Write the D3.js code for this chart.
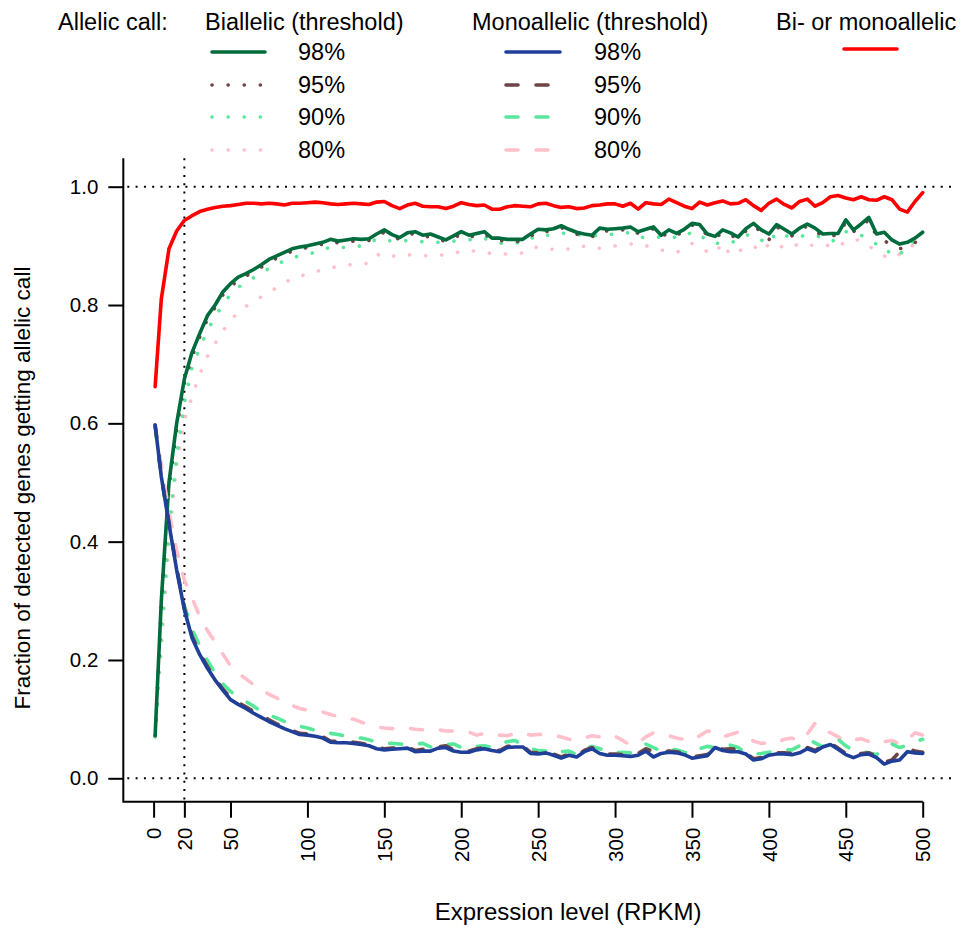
<!DOCTYPE html>
<html lang="en">
<head>
<meta charset="UTF-8">
<title>Allelic call vs expression level</title>
<script src="https://d3js.org/d3.v7.min.js"></script>
<style>
  body { margin: 0; background: #fff; }
  svg { display: block; font-family: "Liberation Sans", Arial, sans-serif; }
</style>
</head>
<body>
<div id="chart"></div>
<script>
// expression level (RPKM) at each point
const rpkm = [1,
  5, 10, 15, 20, 25, 30, 35, 40, 45, 50,
  55, 60, 65, 70, 75, 80, 85, 90, 95, 100,
  105, 110, 115, 120, 125, 130, 135, 140, 145, 150,
  155, 160, 165, 170, 175, 180, 185, 190, 195, 200,
  205, 210, 215, 220, 225, 230, 235, 240, 245, 250,
  255, 260, 265, 270, 275, 280, 285, 290, 295, 300,
  305, 310, 315, 320, 325, 330, 335, 340, 345, 350,
  355, 360, 365, 370, 375, 380, 385, 390, 395, 400,
  405, 410, 415, 420, 425, 430, 435, 440, 445, 450,
  455, 460, 465, 470, 475, 480, 485, 490, 495, 500];

const bi98 = [0.073,
  0.30, 0.50, 0.60, 0.675, 0.72, 0.752, 0.782, 0.80, 0.822, 0.836,
  0.847, 0.853, 0.860, 0.868, 0.877, 0.883, 0.889, 0.895, 0.898, 0.900,
  0.903, 0.906, 0.911, 0.908, 0.910, 0.912, 0.911, 0.912, 0.920, 0.927,
  0.919, 0.914, 0.922, 0.924, 0.918, 0.920, 0.915, 0.910, 0.917, 0.924,
  0.918, 0.921, 0.924, 0.913, 0.913, 0.911, 0.911, 0.911, 0.920, 0.928,
  0.927, 0.929, 0.934, 0.928, 0.923, 0.920, 0.918, 0.930, 0.928, 0.929,
  0.930, 0.932, 0.924, 0.928, 0.932, 0.918, 0.927, 0.921, 0.928, 0.938,
  0.936, 0.920, 0.916, 0.927, 0.922, 0.915, 0.929, 0.938, 0.927, 0.920,
  0.936, 0.928, 0.920, 0.930, 0.937, 0.930, 0.920, 0.921, 0.921, 0.944,
  0.927, 0.937, 0.948, 0.920, 0.923, 0.910, 0.903, 0.906, 0.913, 0.923];

const bi95 = [0.072,
  0.29, 0.49, 0.59, 0.668, 0.713, 0.746, 0.776, 0.796, 0.817, 0.831,
  0.842, 0.849, 0.856, 0.864, 0.873, 0.879, 0.885, 0.891, 0.895, 0.897,
  0.900, 0.903, 0.907, 0.905, 0.906, 0.908, 0.908, 0.909, 0.916, 0.923,
  0.916, 0.911, 0.919, 0.921, 0.915, 0.916, 0.912, 0.907, 0.913, 0.920,
  0.915, 0.917, 0.921, 0.910, 0.909, 0.908, 0.907, 0.908, 0.916, 0.925,
  0.924, 0.926, 0.931, 0.925, 0.920, 0.916, 0.915, 0.926, 0.925, 0.926,
  0.927, 0.929, 0.921, 0.925, 0.929, 0.915, 0.923, 0.918, 0.925, 0.935,
  0.933, 0.917, 0.913, 0.923, 0.918, 0.912, 0.925, 0.935, 0.923, 0.910,
  0.932, 0.925, 0.917, 0.926, 0.934, 0.926, 0.916, 0.917, 0.918, 0.940,
  0.924, 0.933, 0.944, 0.916, 0.909, 0.900, 0.895, 0.899, 0.905, 0.925];

const bi90 = [0.07,
  0.24, 0.42, 0.545, 0.635, 0.695, 0.727, 0.757, 0.780, 0.800, 0.818,
  0.830, 0.838, 0.846, 0.853, 0.862, 0.868, 0.875, 0.879, 0.884, 0.886,
  0.889, 0.893, 0.898, 0.898, 0.897, 0.898, 0.900, 0.904, 0.912, 0.910,
  0.908, 0.908, 0.909, 0.908, 0.907, 0.907, 0.906, 0.907, 0.908, 0.909,
  0.910, 0.913, 0.913, 0.907, 0.905, 0.903, 0.905, 0.906, 0.912, 0.918,
  0.918, 0.918, 0.921, 0.922, 0.919, 0.918, 0.917, 0.917, 0.919, 0.920,
  0.922, 0.922, 0.915, 0.914, 0.916, 0.914, 0.913, 0.915, 0.915, 0.924,
  0.920, 0.907, 0.905, 0.903, 0.905, 0.910, 0.918, 0.919, 0.910, 0.904,
  0.923, 0.918, 0.914, 0.916, 0.918, 0.917, 0.914, 0.907, 0.912, 0.924,
  0.922, 0.918, 0.910, 0.903, 0.900, 0.882, 0.887, 0.893, 0.912, 0.922];

const bi80 = [0.07,
  0.22, 0.40, 0.53, 0.605, 0.645, 0.683, 0.713, 0.735, 0.756, 0.773,
  0.789, 0.798, 0.805, 0.814, 0.822, 0.829, 0.837, 0.845, 0.849, 0.852,
  0.856, 0.860, 0.863, 0.865, 0.867, 0.869, 0.870, 0.870, 0.884, 0.888,
  0.883, 0.882, 0.885, 0.884, 0.883, 0.884, 0.884, 0.885, 0.887, 0.891,
  0.892, 0.891, 0.889, 0.887, 0.887, 0.886, 0.887, 0.888, 0.896, 0.898,
  0.895, 0.894, 0.893, 0.895, 0.900, 0.899, 0.895, 0.896, 0.898, 0.900,
  0.902, 0.903, 0.904, 0.900, 0.897, 0.893, 0.890, 0.889, 0.896, 0.904,
  0.898, 0.890, 0.887, 0.905, 0.884, 0.891, 0.896, 0.900, 0.890, 0.903,
  0.905, 0.895, 0.898, 0.904, 0.901, 0.901, 0.903, 0.899, 0.898, 0.908,
  0.911, 0.909, 0.900, 0.890, 0.883, 0.878, 0.886, 0.892, 0.905, 0.915];

const mono98 = [0.597,
  0.51, 0.43, 0.352, 0.285, 0.237, 0.209, 0.186, 0.166, 0.149, 0.133,
  0.125, 0.118, 0.110, 0.103, 0.096, 0.090, 0.084, 0.079, 0.074, 0.073,
  0.071, 0.068, 0.061, 0.060, 0.060, 0.059, 0.057, 0.055, 0.050, 0.048,
  0.049, 0.050, 0.051, 0.045, 0.046, 0.046, 0.051, 0.052, 0.046, 0.044,
  0.044, 0.048, 0.050, 0.047, 0.045, 0.052, 0.053, 0.053, 0.042, 0.041,
  0.043, 0.039, 0.034, 0.039, 0.036, 0.045, 0.050, 0.042, 0.039, 0.039,
  0.038, 0.037, 0.039, 0.046, 0.036, 0.042, 0.044, 0.043, 0.040, 0.034,
  0.036, 0.038, 0.052, 0.047, 0.045, 0.045, 0.041, 0.031, 0.033, 0.039,
  0.041, 0.041, 0.040, 0.043, 0.050, 0.045, 0.053, 0.057, 0.049, 0.040,
  0.035, 0.040, 0.041, 0.035, 0.024, 0.029, 0.031, 0.045, 0.043, 0.042];

const mono95 = [0.597,
  0.51, 0.432, 0.355, 0.288, 0.240, 0.212, 0.189, 0.169, 0.151, 0.136,
  0.128, 0.121, 0.113, 0.106, 0.099, 0.092, 0.086, 0.081, 0.076, 0.075,
  0.073, 0.070, 0.063, 0.062, 0.062, 0.061, 0.059, 0.057, 0.052, 0.050,
  0.051, 0.052, 0.053, 0.047, 0.049, 0.048, 0.053, 0.055, 0.048, 0.046,
  0.046, 0.050, 0.052, 0.049, 0.047, 0.054, 0.055, 0.055, 0.044, 0.043,
  0.045, 0.041, 0.036, 0.041, 0.038, 0.047, 0.052, 0.044, 0.041, 0.041,
  0.040, 0.039, 0.042, 0.050, 0.045, 0.044, 0.046, 0.045, 0.042, 0.036,
  0.038, 0.040, 0.054, 0.049, 0.050, 0.049, 0.043, 0.033, 0.035, 0.041,
  0.043, 0.043, 0.042, 0.045, 0.052, 0.047, 0.055, 0.059, 0.051, 0.042,
  0.037, 0.042, 0.043, 0.037, 0.027, 0.031, 0.045, 0.050, 0.046, 0.044];

const mono90 = [0.595,
  0.51, 0.43, 0.355, 0.292, 0.252, 0.224, 0.199, 0.178, 0.160, 0.147,
  0.138, 0.130, 0.122, 0.113, 0.107, 0.102, 0.096, 0.091, 0.088, 0.085,
  0.081, 0.078, 0.076, 0.074, 0.071, 0.069, 0.068, 0.065, 0.061, 0.059,
  0.059, 0.058, 0.057, 0.058, 0.059, 0.053, 0.054, 0.057, 0.058, 0.052,
  0.050, 0.054, 0.055, 0.052, 0.058, 0.062, 0.064, 0.056, 0.050, 0.047,
  0.046, 0.041, 0.045, 0.046, 0.040, 0.050, 0.054, 0.050, 0.045, 0.043,
  0.044, 0.043, 0.051, 0.058, 0.052, 0.046, 0.050, 0.048, 0.044, 0.040,
  0.050, 0.054, 0.052, 0.057, 0.056, 0.052, 0.043, 0.041, 0.042, 0.044,
  0.046, 0.048, 0.048, 0.055, 0.067, 0.060, 0.053, 0.063, 0.066, 0.055,
  0.047, 0.045, 0.043, 0.040, 0.050, 0.058, 0.052, 0.056, 0.062, 0.066];

const mono80 = [0.595,
  0.53, 0.45, 0.385, 0.335, 0.305, 0.273, 0.250, 0.230, 0.210, 0.190,
  0.178, 0.168, 0.158, 0.150, 0.142, 0.136, 0.128, 0.123, 0.118, 0.115,
  0.113, 0.112, 0.108, 0.104, 0.101, 0.100, 0.095, 0.090, 0.087, 0.085,
  0.084, 0.084, 0.085, 0.083, 0.082, 0.080, 0.082, 0.080, 0.080, 0.079,
  0.078, 0.073, 0.076, 0.074, 0.073, 0.072, 0.076, 0.077, 0.073, 0.074,
  0.075, 0.073, 0.070, 0.066, 0.064, 0.068, 0.072, 0.070, 0.074, 0.071,
  0.064, 0.056, 0.060, 0.070, 0.077, 0.075, 0.072, 0.068, 0.066, 0.064,
  0.072, 0.080, 0.078, 0.070, 0.074, 0.078, 0.070, 0.063, 0.059, 0.060,
  0.060, 0.066, 0.068, 0.063, 0.075, 0.093, 0.080, 0.077, 0.070, 0.062,
  0.065, 0.067, 0.062, 0.058, 0.062, 0.064, 0.058, 0.065, 0.077, 0.073];

const either = [0.662,
  0.81, 0.895, 0.925, 0.943, 0.951, 0.958, 0.962, 0.965, 0.967, 0.968,
  0.970, 0.972, 0.972, 0.971, 0.972, 0.971, 0.969, 0.972, 0.972, 0.973,
  0.974, 0.973, 0.971, 0.970, 0.971, 0.972, 0.971, 0.970, 0.974, 0.975,
  0.968, 0.963, 0.969, 0.972, 0.967, 0.966, 0.966, 0.963, 0.967, 0.973,
  0.970, 0.968, 0.969, 0.962, 0.962, 0.966, 0.968, 0.967, 0.966, 0.971,
  0.972, 0.968, 0.965, 0.966, 0.963, 0.964, 0.968, 0.969, 0.971, 0.971,
  0.967, 0.972, 0.962, 0.973, 0.971, 0.970, 0.979, 0.973, 0.967, 0.963,
  0.974, 0.969, 0.973, 0.976, 0.971, 0.972, 0.978, 0.968, 0.960, 0.972,
  0.979, 0.970, 0.964, 0.975, 0.979, 0.967, 0.973, 0.983, 0.985, 0.981,
  0.978, 0.983, 0.978, 0.977, 0.983, 0.978, 0.962, 0.957, 0.975, 0.990];

const xTicks = [0, 20, 50, 100, 150, 200, 250, 300, 350, 400, 450, 500];
const yTicks = [0, 0.2, 0.4, 0.6, 0.8, 1.0];
const thresholds = ["98%", "95%", "90%", "80%"];

const W = 965, H = 931;
const plotL = 123.3, plotR = 953, plotT = 158.3, plotB = 801.7;

const green = "#006b3c", blue = "#1f3f99", brown = "#6e4444",
      mint = "#58e89c", pink = "#ffc0cb", red = "#ff0000";
const SOLID = null, DOT = "0.1 16", DASH = "12 18";

const svg = d3.select("#chart").append("svg")
  .attr("width", W).attr("height", H);

const x = d3.scaleLinear().domain([0, 500]).range([153.6, 922.7]);
const y = d3.scaleLinear().domain([0, 1]).range([778.3, 186.7]);

// reference lines
const ref = svg.append("g")
  .attr("stroke", "#000").attr("stroke-width", 2)
  .attr("stroke-dasharray", "2 6.3");
ref.append("line").attr("x1", plotL + 4).attr("x2", plotR).attr("y1", y(1)).attr("y2", y(1));
ref.append("line").attr("x1", plotL + 4).attr("x2", plotR).attr("y1", y(0)).attr("y2", y(0));
ref.append("line").attr("x1", x(20)).attr("x2", x(20)).attr("y1", plotT).attr("y2", plotB);

// series, drawn bottom to top
const series = [
  { v: bi80, c: pink, d: DOT },
  { v: bi90, c: mint, d: DOT },
  { v: bi95, c: brown, d: DOT },
  { v: bi98, c: green, d: SOLID },
  { v: mono80, c: pink, d: DASH },
  { v: mono90, c: mint, d: DASH },
  { v: mono95, c: brown, d: DASH },
  { v: mono98, c: blue, d: SOLID },
  { v: either, c: red, d: SOLID }
];

const line = d3.line().x((d, i) => x(rpkm[i])).y(d => y(d));

svg.append("g").selectAll("path")
  .data(series)
  .join("path")
  .attr("d", s => line(s.v))
  .attr("fill", "none")
  .attr("stroke", s => s.c)
  .attr("stroke-width", 3.6)
  .attr("stroke-linecap", "round")
  .attr("stroke-linejoin", "round")
  .attr("stroke-dasharray", s => s.d);

// axes
const yAxis = svg.append("g")
  .attr("transform", `translate(${plotL},0)`)
  .call(d3.axisLeft(y).tickValues(yTicks).tickFormat(d3.format(".1f"))
    .tickSize(15).tickPadding(10));
const xAxis = svg.append("g")
  .attr("transform", `translate(0,${plotB})`)
  .call(d3.axisBottom(x).tickValues(xTicks).tickSize(16));

[xAxis, yAxis].forEach(g => {
  g.select(".domain").remove();
  g.selectAll("line").attr("stroke", "#000").attr("stroke-width", 2);
  g.selectAll("text").attr("fill", "#000")
    .attr("font-size", 20.5).attr("font-family", "Liberation Sans, Arial, sans-serif");
});

xAxis.selectAll("text")
  .attr("transform", "rotate(-90)")
  .attr("x", -26).attr("y", 0).attr("dy", "0.35em")
  .attr("text-anchor", "end");

svg.append("path")
  .attr("d", `M${plotL},${plotT}V${plotB}H${x(500)}`)
  .attr("fill", "none").attr("stroke", "#000").attr("stroke-width", 2);

// axis titles
svg.append("text")
  .attr("x", 568).attr("y", 912).attr("dy", "0.35em")
  .attr("text-anchor", "middle").attr("font-size", 24)
  .text("Expression level (RPKM)");
svg.append("text")
  .attr("transform", "translate(22,488) rotate(-90)")
  .attr("dy", "0.35em")
  .attr("text-anchor", "middle").attr("font-size", 22.5)
  .text("Fraction of detected genes getting allelic call");

// legend
const leg = svg.append("g").attr("font-size", 23.5);
const rowY = [52, 85, 117, 150];
leg.append("text").attr("x", 58).attr("y", 22).attr("dy", "0.35em").text("Allelic call:");
leg.append("text").attr("x", 205).attr("y", 22).attr("dy", "0.35em").text("Biallelic (threshold)");
leg.append("text").attr("x", 472).attr("y", 22).attr("dy", "0.35em").text("Monoallelic (threshold)");
leg.append("text").attr("x", 776).attr("y", 22).attr("dy", "0.35em").text("Bi- or monoallelic");

const legCols = [
  { x1: 212, x2: 265, tx: 298, items: series.slice(0, 4).reverse() },
  { x1: 506, x2: 560, tx: 594, items: series.slice(4, 8).reverse() }
];
legCols.forEach(col => {
  col.items.forEach((s, i) => {
    leg.append("line")
      .attr("x1", col.x1).attr("x2", col.x2)
      .attr("y1", rowY[i]).attr("y2", rowY[i])
      .attr("stroke", s.c).attr("stroke-width", 3.6)
      .attr("stroke-linecap", "round")
      .attr("stroke-dasharray", s.d);
    leg.append("text").attr("x", col.tx).attr("y", rowY[i])
      .attr("dy", "0.35em").text(thresholds[i]);
  });
});
leg.append("line")
  .attr("x1", 844).attr("x2", 897).attr("y1", 49).attr("y2", 49)
  .attr("stroke", red).attr("stroke-width", 3.6).attr("stroke-linecap", "round");
</script>
</body>
</html>
